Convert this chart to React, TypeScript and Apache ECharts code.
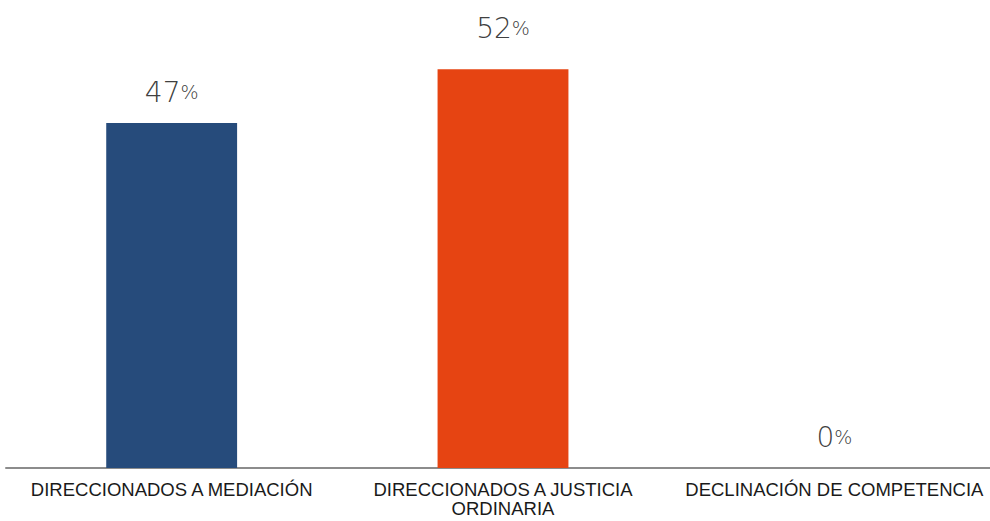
import React, { useEffect, useRef } from "react";
import * as echarts from "echarts";

const categories = [
  "DIRECCIONADOS A MEDIACIÓN",
  "DIRECCIONADOS A JUSTICIA\nORDINARIA",
  "DECLINACIÓN DE COMPETENCIA",
];
// Percentages shown in the labels
const shares = [47, 52, 0];
// Bar heights as drawn in the picture (percent scale)
const barHeights = [45, 52, 0];
const barColors = ["#264b7b", "#e64412"];
const labelDistances = [17, 27, 17];

export default function App() {
  const ref = useRef<HTMLDivElement>(null);
  useEffect(() => {
    if (!ref.current) return;
    const chart = echarts.init(ref.current, null, { renderer: "svg" });
    chart.setOption({
      animation: false,
      backgroundColor: "#ffffff",
      grid: {
        left: 6,
        width: 994,
        top: 8,
        bottom: 53,
        containLabel: false,
        outerBoundsMode: "none",
      },
      xAxis: {
        type: "category",
        data: categories,
        axisLine: { show: true, lineStyle: { color: "#8c8c8c", width: 2 } },
        axisTick: { show: false },
        axisLabel: {
          color: "#1a1a1a",
          fontFamily: "Liberation Sans, Arial, sans-serif",
          fontSize: 18.5,
          lineHeight: 19,
          margin: 12,
          interval: 0,
        },
      },
      yAxis: {
        type: "value",
        min: 0,
        max: 60,
        show: false,
        splitLine: { show: false },
      },
      series: [
        {
          type: "bar",
          barWidth: "39.5%",
          data: barHeights.map((v, i) => ({
            value: v,
            itemStyle: { color: barColors[i % barColors.length] },
            label: {
              show: true,
              position: "top",
              distance: labelDistances[i],
              formatter: () => `{n|${shares[i]}}{p|%}`,
              rich: {
                n: {
                  fontFamily: "DejaVu Sans, sans-serif",
                  fontWeight: 200,
                  fontSize: 28,
                  color: "#404040",
                },
                p: {
                  fontFamily: "DejaVu Sans, sans-serif",
                  fontWeight: 200,
                  fontSize: 19,
                  color: "#404040",
                },
              },
            },
          })),
        },
      ],
    });
    return () => chart.dispose();
  }, []);
  return (
    <div
      ref={ref}
      style={{ position: "fixed", left: 0, top: 0, width: 990, height: 521 }}
    />
  );
}
